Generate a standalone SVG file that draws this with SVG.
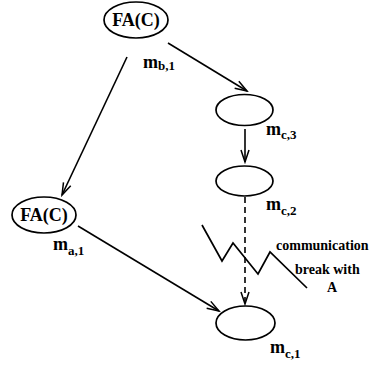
<svg xmlns="http://www.w3.org/2000/svg" width="371" height="365" viewBox="0 0 371 365">
<style>
.n{fill:none;stroke:#000;stroke-width:1.7}
.t{font-family:'Liberation Serif','Times New Roman','DejaVu Serif',serif;font-weight:bold;fill:#000}
.c{stroke:#000;stroke-width:1.6;fill:none}
</style>
<defs>
<marker id="ah" markerUnits="userSpaceOnUse" viewBox="-13 -6 15 12" refX="0" refY="0" markerWidth="15" markerHeight="12" orient="auto">
<path d="M-12,-4 L0,0 L-12,4" fill="none" stroke="#000" stroke-width="1.5"/>
</marker>
</defs>
<rect width="371" height="365" fill="#fff"/>
<g id="connectors">
<line class="c" x1="168" y1="43" x2="247" y2="91" marker-end="url(#ah)"/>
<line class="c" x1="127" y1="57" x2="62" y2="195" marker-end="url(#ah)"/>
<line class="c" x1="245" y1="129" x2="245" y2="162" marker-end="url(#ah)"/>
<line class="c" x1="245" y1="197" x2="245" y2="304" stroke-dasharray="6,4" marker-end="url(#ah)"/>
<line class="c" x1="78" y1="226" x2="219" y2="311" marker-end="url(#ah)"/>
</g>
<g id="fa_top">
<ellipse class="n" cx="136" cy="20" rx="32" ry="18"/>
<text class="t" x="136" y="26" font-size="18" text-anchor="middle">FA(C)</text>
<text class="t" x="143" y="68" font-size="18">m<tspan font-size="13" dy="2">b,1</tspan></text>
</g>
<g id="fa_left">
<ellipse class="n" cx="44" cy="215" rx="32" ry="18"/>
<text class="t" x="44" y="221" font-size="18" text-anchor="middle">FA(C)</text>
<text class="t" x="53" y="250" font-size="18">m<tspan font-size="13" dy="5">a,1</tspan></text>
</g>
<g id="mc3">
<ellipse class="n" cx="244.5" cy="110" rx="28.5" ry="15.5"/>
<text class="t" x="266" y="135" font-size="18">m<tspan font-size="13" dy="4">c,3</tspan></text>
</g>
<g id="mc2">
<ellipse class="n" cx="244.5" cy="181" rx="28.5" ry="15"/>
<text class="t" x="266" y="210" font-size="18">m<tspan font-size="13" dy="5">c,2</tspan></text>
</g>
<g id="mc1">
<ellipse class="n" cx="245.5" cy="323" rx="29.5" ry="17"/>
<text class="t" x="270" y="353" font-size="18">m<tspan font-size="13" dy="5">c,1</tspan></text>
</g>
<g id="break">
<polyline class="n" points="202,225 222,261 233,243 258,274 270,252 307,288"/>
<text class="t" x="276" y="250" font-size="14">communication</text>
<text class="t" x="295" y="274" font-size="14">break with</text>
<text class="t" x="332" y="292" font-size="14" text-anchor="middle">A</text>
</g>
</svg>
